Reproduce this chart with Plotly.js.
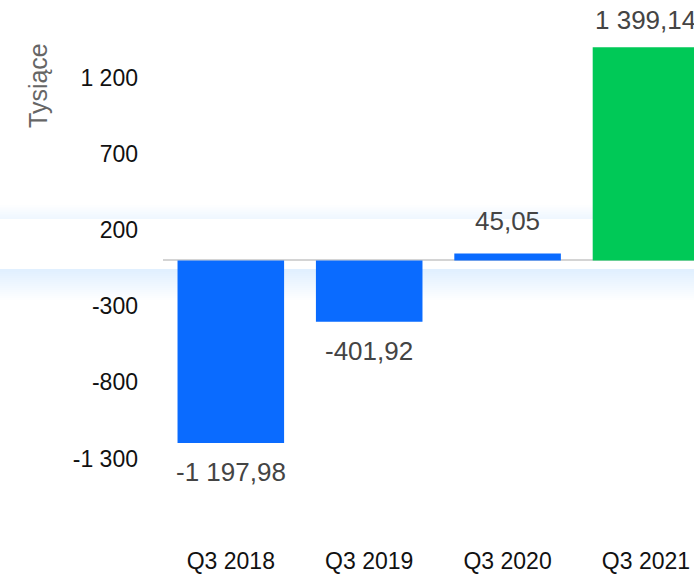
<!DOCTYPE html>
<html>
<head>
<meta charset="utf-8">
<script src="https://cdn.plot.ly/plotly-3.0.1.min.js"></script>
<style>html,body{margin:0;padding:0;background:#fff;}#chart{width:694px;height:577px;}</style>
</head>
<body>
<div id="chart"></div>
<script>
var categories = ['Q3 2018', 'Q3 2019', 'Q3 2020', 'Q3 2021'];
var values = [-1197.98, -401.92, 45.05, 1399.14];
var valueLabels = ['-1 197,98', '-401,92', '45,05', '1 399,14'];
var barColors = ['#0A6BFF', '#0A6BFF', '#0A6BFF', '#00C957'];
var tickVals = [1200, 700, 200, -300, -800, -1300];
var tickLabels = ['1 200', '700', '200', '-300', '-800', '-1 300'];
var yTitle = 'Tysiące';

var W = 694, H = 577, L = 163, T = 0, B = 37;
var plotW = W - L, plotH = H - T - B;
var yMin = -1834, yMax = 1709;
function px(x) { return (x - L) / plotW; }
function py(y) { return (H - B - y) / plotH; }
function valToPx(v) { return T + (yMax - v) * plotH / (yMax - yMin); }

var font = 'Liberation Sans, Arial, Helvetica, sans-serif';

var shapes = [];
// soft shadow band (upper, faint)
for (var i = 0; i < 8; i++) {
  shapes.push({type: 'rect', xref: 'paper', yref: 'paper', layer: 'below',
    x0: px(0), x1: px(W + 10), y0: py(219), y1: py(205 + i * 1.75),
    fillcolor: 'rgba(60,100,230,0.006)', line: {width: 0}});
}
// lower shadow band (stronger)
for (var j = 0; j < 15; j++) {
  shapes.push({type: 'rect', xref: 'paper', yref: 'paper', layer: 'below',
    x0: px(0), x1: px(W + 10), y0: py(300 - j * 2), y1: py(269),
    fillcolor: 'rgba(40,100,235,0.009)', line: {width: 0}});
}
// white card
shapes.push({type: 'rect', xref: 'paper', yref: 'paper', layer: 'below',
  x0: px(0), x1: px(W + 10), y0: py(269), y1: py(219),
  fillcolor: '#ffffff', line: {width: 0}});

var annotations = values.map(function (v, k) {
  var shift;
  if (v >= 0) {
    // keep label inside the top of the chart
    shift = Math.min(16, valToPx(v) - 14 - 23);
  } else {
    shift = -12;
  }
  return {x: categories[k], y: v, xref: 'x', yref: 'y', text: valueLabels[k],
    showarrow: false, yanchor: v >= 0 ? 'bottom' : 'top', yshift: shift,
    font: {family: font, size: 26, color: '#444444'}};
});
annotations.push({xref: 'paper', yref: 'paper', x: px(38), y: py(86), text: yTitle,
  textangle: -90, showarrow: false, xanchor: 'center', yanchor: 'middle',
  font: {family: font, size: 25, color: '#666666'}});

var data = [{
  type: 'bar', x: categories, y: values, width: 0.77,
  marker: {color: barColors, line: {width: 0}},
  hoverinfo: 'none'
}];

var layout = {
  width: W, height: H,
  margin: {l: L, r: 0, t: T, b: B, pad: 0},
  paper_bgcolor: '#ffffff', plot_bgcolor: 'rgba(0,0,0,0)',
  showlegend: false,
  xaxis: {type: 'category', range: [-0.49, 3.347], showgrid: false, zeroline: false,
    showline: false, ticks: '', ticklabelstandoff: 5,
    tickfont: {family: font, size: 23, color: '#111111'}},
  yaxis: {range: [yMin, yMax], tickvals: tickVals, ticktext: tickLabels,
    showgrid: false, zeroline: true, zerolinecolor: '#d4d4d4', zerolinewidth: 2,
    showline: false, ticks: '', ticklabelstandoff: 24,
    tickfont: {family: font, size: 23, color: '#111111'}},
  shapes: shapes,
  annotations: annotations
};

Plotly.newPlot('chart', data, layout, {displayModeBar: false, staticPlot: true});
</script>
</body>
</html>
